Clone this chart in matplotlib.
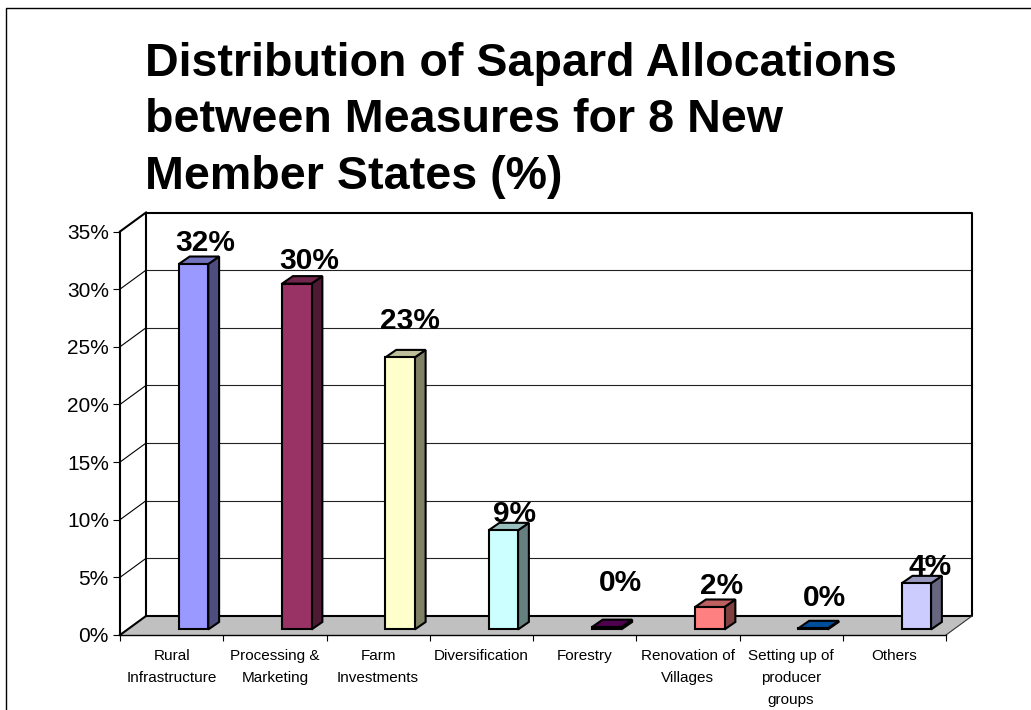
import matplotlib
matplotlib.use("Agg")
import matplotlib.pyplot as plt
from matplotlib.patches import Polygon, Rectangle

plt.rcParams["font.family"] = ["Liberation Sans", "DejaVu Sans"]

W, H = 1031, 710  # picture size in px

categories = ["Rural\nInfrastructure", "Processing &\nMarketing", "Farm\nInvestments",
              "Diversification", "Forestry", "Renovation of\nVillages",
              "Setting up of\nproducer\ngroups", "Others"]
values = [31.7, 30.0, 23.6, 8.6, 0.2, 1.95, 0.1, 4.0]
value_labels = ["32%", "30%", "23%", "9%", "0%", "2%", "0%", "4%"]
y_ticks = [0, 5, 10, 15, 20, 25, 30, 35]
y_tick_labels = ["0%", "5%", "10%", "15%", "20%", "25%", "30%", "35%"]

front_colors = ["#9999FF", "#993366", "#FFFFCC", "#CCFFFF", "#660066", "#FF8080", "#0066CC", "#CCCCFF"]
side_colors = ["#4D4D80", "#4D1A33", "#808066", "#668080", "#330033", "#804040", "#003366", "#666680"]
top_colors = ["#7373BF", "#73264D", "#BFBF99", "#99BFBF", "#4D004D", "#BF6060", "#004D99", "#9999BF"]

# label nudges in px, the original places them rather unevenly
label_dx = [11.5, 12, 10, 11.5, 14, 12, 11, 14]
label_dy = [13.5, 14.5, 28.5, 8, 36, 13, 22, 8]

fig = plt.figure(figsize=(W / 100, H / 100), dpi=100)

# front plane of the fake 3D box
ax = fig.add_axes([120 / W, 1 - 635 / H, 826 / W, 403.5 / H])
ax.set_xlim(0, 8)
ax.set_ylim(0, 35)
ax.patch.set_visible(False)

# depth of the box and of the bars, in data units
dep_x = 26 / (826 / 8)
dep_y = 19 / (403.5 / 35)
bar_x = 0.57
bar_w = 0.285
bar_dx = 0.105
bar_dy = 0.65
base = 0.48

# ===-box-===
floor = Polygon([(0, 0), (dep_x, dep_y), (8 + dep_x, dep_y), (8, 0)], closed=True,
                facecolor="#C0C0C0", edgecolor="none", clip_on=False, zorder=1)
ax.add_patch(floor)
for t in y_ticks[1:-1]:
    ax.plot([dep_x, 8 + dep_x], [t + dep_y, t + dep_y], color="#222222", lw=0.8, clip_on=False, zorder=1)
    ax.plot([0, dep_x], [t, t + dep_y], color="black", lw=0.8, clip_on=False, zorder=1)
ax.plot([dep_x, dep_x, 8 + dep_x, 8 + dep_x, dep_x], [dep_y, 35 + dep_y, 35 + dep_y, dep_y, dep_y],
        color="black", lw=1.5, clip_on=False, zorder=2)
ax.plot([0, dep_x], [0, dep_y], color="black", lw=1.5, clip_on=False, zorder=2)
ax.plot([0, dep_x], [35, 35 + dep_y], color="black", lw=1.5, clip_on=False, zorder=2)
ax.plot([8, 8 + dep_x], [0, dep_y], color="#333333", lw=0.8, clip_on=False, zorder=2)

# ===-bars-===
for i, v in enumerate(values):
    x0 = i + bar_x
    x1 = x0 + bar_w
    y0 = base
    y1 = base + v
    edge = dict(edgecolor="black", lw=1.5, joinstyle="miter", clip_on=False, zorder=3)
    ax.add_patch(Polygon([(x1, y0), (x1 + bar_dx, y0 + bar_dy), (x1 + bar_dx, y1 + bar_dy), (x1, y1)],
                         facecolor=side_colors[i], **edge))
    ax.add_patch(Polygon([(x0, y1), (x0 + bar_dx, y1 + bar_dy), (x1 + bar_dx, y1 + bar_dy), (x1, y1)],
                         facecolor=top_colors[i], **edge))
    ax.add_patch(Rectangle((x0, y0), bar_w, v, facecolor=front_colors[i], **edge))
    ax.annotate(value_labels[i], xy=(x0 + bar_w / 2, y1), xytext=(label_dx[i] * 0.72, label_dy[i] * 0.72),
                textcoords="offset points", ha="center", va="baseline", fontsize=21.5,
                fontweight="bold", color="black", annotation_clip=False, zorder=5)

# ===-axes-===
for s in ["top", "right"]:
    ax.spines[s].set_visible(False)
ax.spines["left"].set_linewidth(1.5)
ax.spines["bottom"].set_linewidth(1.0)
ax.set_yticks(y_ticks)
ax.set_yticklabels(y_tick_labels, fontsize=15)
ax.tick_params(axis="y", length=5, width=0.8, pad=3)
ax.set_xticks(range(9))
ax.set_xticklabels([])
ax.tick_params(axis="x", which="major", length=4.5, width=0.8)
ax.set_xticks([i + 0.5 for i in range(8)], minor=True)
ax.set_xticklabels(categories, minor=True, fontsize=11, linespacing=1.75)
ax.tick_params(axis="x", which="minor", length=0, pad=10)

# ===-title and outer frame-===
fig.text(145 / W, 1 - 189 / H, "Distribution of Sapard Allocations\nbetween Measures for 8 New\nMember States (%)",
         fontsize=33.6, fontweight="bold", ha="left", va="baseline", linespacing=1.37)
fig.add_artist(plt.Line2D([5.5 / W, 5.5 / W, 1], [0, 1 - 7.5 / H, 1 - 7.5 / H], color="black", lw=1.0))

fig.savefig("out.png", dpi=100)
